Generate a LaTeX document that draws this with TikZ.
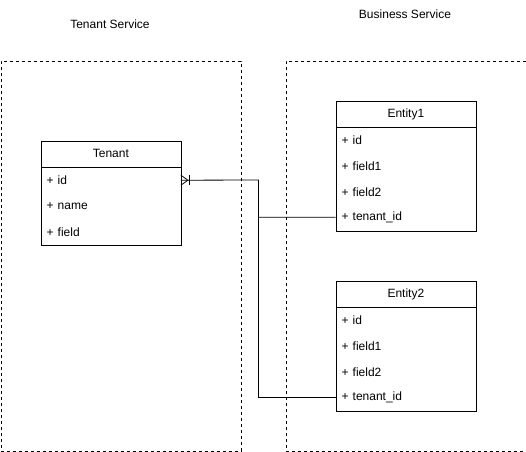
\documentclass[tikz,border=0pt]{standalone}
\usepackage{fontspec}
\setmainfont{Liberation Sans}
\begin{document}
\begin{tikzpicture}[x=1pt,y=-1pt,
  every node/.style={font=\fontsize{12}{14}\selectfont, inner sep=0pt},
  grp/.style={draw, line width=0.8pt, dash pattern=on 3pt off 3pt, minimum width=240pt, minimum height=390pt, anchor=north west},
  entbox/.style={draw, line width=0.8pt, fill=white, minimum width=140pt, anchor=north west},
  hdr/.style={draw, line width=0.8pt, minimum width=140pt, minimum height=26pt, anchor=north west},
  rowtxt/.style={minimum width=140pt, minimum height=26pt, text width=128pt, inner xsep=6pt, align=left, anchor=north west},
  conn/.style={draw, line width=0.8pt}]
\useasboundingbox (0,0) rectangle (526,451);
% groups
\node[grp] (tsgrp) at (0.5,60.5) {};
\node[grp] (bsgrp) at (285.5,60.5) {};
\node (tslabel) at (110,24) {Tenant Service};
\node (bslabel) at (405,14) {Business Service};
% Tenant
\node[entbox, minimum height=104pt] (tenant) at (40.5,140.5) {};
\node[hdr] (tenanth) at (40.5,140.5) {Tenant};
\node[rowtxt] (tr1) at (40.5,167) {+ id};
\node[rowtxt] (tr2) at (40.5,193) {+ name};
\node[rowtxt] (tr3) at (40.5,219) {+ field};
% Entity1
\node[entbox, minimum height=130pt] (e1) at (335.5,100.5) {};
\node[hdr] (e1h) at (335.5,100.5) {Entity1};
\node[rowtxt] (e1r1) at (335.5,127) {+ id};
\node[rowtxt] (e1r2) at (335.5,153) {+ field1};
\node[rowtxt] (e1r3) at (335.5,179) {+ field2};
\node[rowtxt] (e1r4) at (335.5,204) {+ tenant\_id};
% Entity2
\node[entbox, minimum height=130pt] (e2) at (335.5,280.5) {};
\node[hdr] (e2h) at (335.5,280.5) {Entity2};
\node[rowtxt] (e2r1) at (335.5,307) {+ id};
\node[rowtxt] (e2r2) at (335.5,333) {+ field1};
\node[rowtxt] (e2r3) at (335.5,359) {+ field2};
\node[rowtxt] (e2r4) at (335.5,384) {+ tenant\_id};
% connectors
\coordinate (jn) at (258.5,180);
\draw[conn] (e1r4.west) -| (jn) -- (tr1.east);
\draw[conn] (e2r4.west) -| (jn);
% crow's foot (one or many)
\draw[conn] ([yshift=-5pt]tr1.east) -- ([xshift=7pt]tr1.east) -- ([yshift=5pt]tr1.east);
\draw[conn] ([xshift=8pt,yshift=-5pt]tr1.east) -- ([xshift=8pt,yshift=5pt]tr1.east);
\end{tikzpicture}
\end{document}
